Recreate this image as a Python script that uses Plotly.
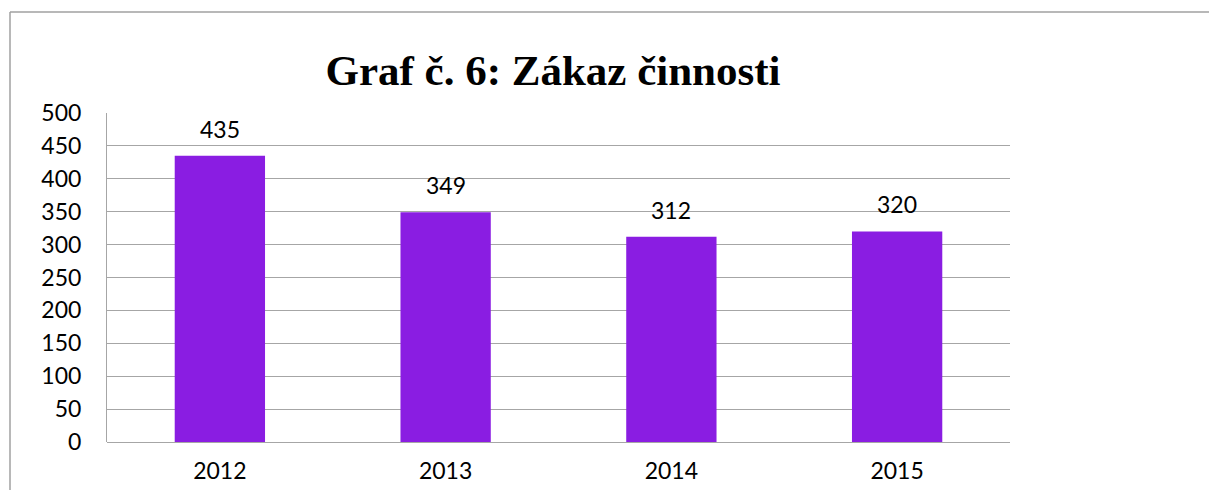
import plotly.graph_objects as go

categories = ["2012", "2013", "2014", "2015"]
values = [435, 349, 312, 320]
title_text = "Graf č. 6: Zákaz činnosti"

BAR_COLOR = "#8A1DE2"
GRID = "#A6A6A6"
FONT = "Lato"

fig = go.Figure()
fig.add_trace(go.Bar(x=categories, y=values, marker=dict(color=BAR_COLOR, line=dict(width=0)),
                     hoverinfo="x+y"))

# category axis: annotation x given as category index
for i, v in enumerate(values):
    fig.add_annotation(x=i, y=v, xref="x", yref="y", text=str(v), showarrow=False,
                       yanchor="bottom", yshift=11,
                       font=dict(family=FONT, size=23, color="#000000"))

L, R, T, B = 107, 199, 113, 48
W, H = 1209, 490
pw = W - L - R
ph = H - T - B

def px_x(px):
    return (px - L) / pw

def px_y(py):
    return (H - B - py) / ph

# outer chart-area border (top and left edges visible)
fig.add_shape(type="line", xref="paper", yref="paper",
              x0=px_x(10), x1=px_x(W + 20), y0=px_y(12), y1=px_y(12),
              line=dict(color="#A0A0A0", width=1.5), layer="below")
fig.add_shape(type="line", xref="paper", yref="paper",
              x0=px_x(10), x1=px_x(10), y0=px_y(12), y1=px_y(H + 20),
              line=dict(color="#A0A0A0", width=1.5), layer="below")

fig.update_layout(
    width=W, height=H,
    margin=dict(l=L, r=R, t=T, b=B, autoexpand=False),
    paper_bgcolor="white", plot_bgcolor="white",
    bargap=0.6,
    showlegend=False,
    title=dict(text="<b>" + title_text + "</b>", x=px_x(553), xref="paper", xanchor="center",
               y=1 - 70 / H, yref="container", yanchor="middle",
               font=dict(family="Liberation Serif", size=43, color="#000000")),
    font=dict(family=FONT, size=23, color="#000000"),
    xaxis=dict(type="category", range=[-0.5, len(categories) - 0.5], showgrid=False,
               showline=False, ticks="", tickfont=dict(size=23), ticklabelstandoff=13,
               fixedrange=True),
    yaxis=dict(range=[0, 500], dtick=50, showgrid=True, gridcolor=GRID, gridwidth=1,
               showline=True, linecolor=GRID, linewidth=1, zeroline=True, zerolinecolor=GRID,
               zerolinewidth=1, ticks="", tickfont=dict(size=23), ticklabelstandoff=20, fixedrange=True),
)

fig.write_html("out.html", config={"displayModeBar": False},
               post_script="document.body.style.margin='0';document.body.style.overflow='hidden';")
